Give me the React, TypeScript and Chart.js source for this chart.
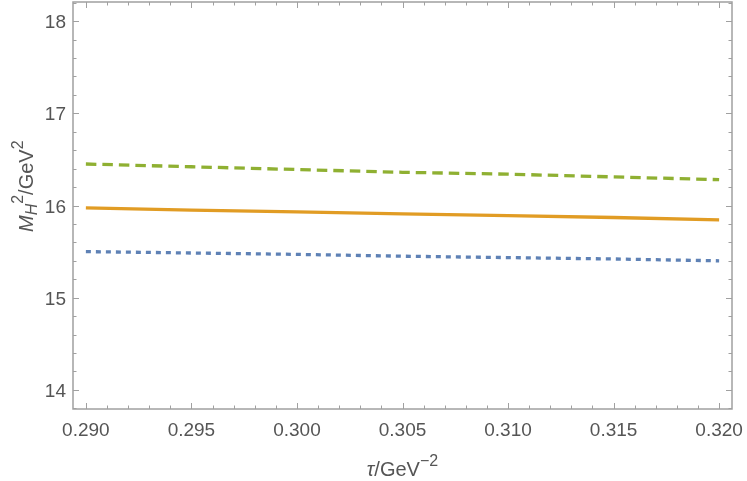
import React, { useEffect, useRef } from "react";
import { Chart, registerables } from "chart.js";

Chart.register(...registerables);

// ---- data ----
const tau = [0.29, 0.295, 0.3, 0.305, 0.31, 0.315, 0.32];
const upperM2 = [16.45, 16.42, 16.39, 16.36, 16.34, 16.31, 16.28];
const centralM2 = [15.975, 15.95, 15.93, 15.91, 15.89, 15.87, 15.845];
const lowerM2 = [15.5, 15.485, 15.47, 15.45, 15.435, 15.42, 15.4];

const xTickValues = [0.29, 0.295, 0.3, 0.305, 0.31, 0.315, 0.32];
const xTickLabels = ["0.290", "0.295", "0.300", "0.305", "0.310", "0.315", "0.320"];
const yTickValues = [14, 15, 16, 17, 18];
const yTickLabels = ["14", "15", "16", "17", "18"];
const xMinorStep = 0.001;
const yMinorStep = 0.2;

const X_MIN = 0.28939;
const X_MAX = 0.32061;
const Y_MIN = 13.793;
const Y_MAX = 18.207;

const FONT = "'Liberation Sans', Arial, sans-serif";
const FRAME = "#a0a0a0";
const TEXT = "#555555";

type Seg = { t: string; size: number; italic?: boolean; dy?: number };

function drawRich(ctx: CanvasRenderingContext2D, segs: Seg[], x: number, y: number) {
  let cx = x;
  for (const s of segs) {
    ctx.font = `${s.italic ? "italic " : ""}${s.size}px ${FONT}`;
    ctx.fillText(s.t, cx, y + (s.dy || 0));
    cx += ctx.measureText(s.t).width;
  }
  return cx - x;
}
function richWidth(ctx: CanvasRenderingContext2D, segs: Seg[]) {
  let w = 0;
  for (const s of segs) {
    ctx.font = `${s.italic ? "italic " : ""}${s.size}px ${FONT}`;
    w += ctx.measureText(s.t).width;
  }
  return w;
}

const framePlugin = {
  id: "mmaFrame",
  afterDraw(chart: any) {
    const ctx: CanvasRenderingContext2D = chart.ctx;
    const { left, right, top, bottom } = chart.chartArea;
    const xs = chart.scales.x;
    const ys = chart.scales.y;
    ctx.save();
    // frame
    ctx.strokeStyle = FRAME;
    ctx.lineWidth = 1.5;
    ctx.strokeRect(left, top, right - left, bottom - top);

    // ticks
    ctx.lineWidth = 1;
    const majorLen = 6;
    const minorLen = 3.5;
    ctx.beginPath();
    const nX = Math.round((X_MAX - X_MIN) / xMinorStep) + 2;
    const xStart = Math.ceil(X_MIN / xMinorStep) * xMinorStep;
    for (let i = 0; i < nX; i++) {
      const v = xStart + i * xMinorStep;
      if (v > X_MAX) break;
      const isMajor = xTickValues.some((m) => Math.abs(m - v) < 1e-9);
      const len = isMajor ? majorLen : minorLen;
      const px = Math.round(xs.getPixelForValue(v)) + 0.5;
      ctx.moveTo(px, bottom);
      ctx.lineTo(px, bottom - len);
      ctx.moveTo(px, top);
      ctx.lineTo(px, top + len);
    }
    const nY = Math.round((Y_MAX - Y_MIN) / yMinorStep) + 2;
    const yStart = Math.ceil(Y_MIN / yMinorStep) * yMinorStep;
    for (let i = 0; i < nY; i++) {
      const v = yStart + i * yMinorStep;
      if (v > Y_MAX) break;
      const isMajor = yTickValues.some((m) => Math.abs(m - v) < 1e-9);
      const len = isMajor ? majorLen : minorLen;
      const py = Math.round(ys.getPixelForValue(v)) + 0.5;
      ctx.moveTo(left, py);
      ctx.lineTo(left + len, py);
      ctx.moveTo(right, py);
      ctx.lineTo(right - len, py);
    }
    ctx.stroke();

    // tick labels
    ctx.fillStyle = TEXT;
    ctx.font = `19px ${FONT}`;
    ctx.textBaseline = "alphabetic";
    ctx.textAlign = "center";
    xTickValues.forEach((v, i) => {
      ctx.fillText(xTickLabels[i], xs.getPixelForValue(v), 436);
    });
    ctx.textAlign = "right";
    yTickValues.forEach((v, i) => {
      ctx.fillText(yTickLabels[i], 66, ys.getPixelForValue(v) + 7);
    });

    // x title
    ctx.textAlign = "left";
    const xt: Seg[] = [
      { t: "τ", size: 20, italic: true },
      { t: "/GeV", size: 20 },
      { t: "−2", size: 16, dy: -10 },
    ];
    const wx = richWidth(ctx, xt);
    drawRich(ctx, xt, (left + right) / 2 - wx / 2, 476);

    // y title (rotated)
    const yt: Seg[] = [
      { t: "M", size: 20, italic: true },
      { t: "H", size: 16, italic: true, dy: 4 },
      { t: "2", size: 16, dy: -10 },
      { t: "/GeV", size: 20 },
      { t: "2", size: 16, dy: -10 },
    ];
    ctx.save();
    ctx.translate(33, 232);
    ctx.rotate(-Math.PI / 2);
    drawRich(ctx, yt, 0, 0);
    ctx.restore();

    ctx.restore();
  },
};

export default function App() {
  const ref = useRef<HTMLCanvasElement | null>(null);
  useEffect(() => {
    document.body.style.margin = "0";
    const canvas = ref.current!;
    const mk = (ys: number[]) => tau.map((x, i) => ({ x, y: ys[i] }));
    const chart = new Chart(canvas, {
      type: "line",
      data: {
        datasets: [
          {
            label: "upper",
            data: mk(upperM2),
            borderColor: "#8fb032",
            borderWidth: 3.3,
            borderDash: [10.5, 6],
            pointRadius: 0,
            fill: false,
            tension: 0,
          },
          {
            label: "central",
            data: mk(centralM2),
            borderColor: "#e19c24",
            borderWidth: 3.3,
            pointRadius: 0,
            fill: false,
            tension: 0,
          },
          {
            label: "lower",
            data: mk(lowerM2),
            borderColor: "#5e81b5",
            borderWidth: 3.3,
            borderDash: [5, 5],
            pointRadius: 0,
            fill: false,
            tension: 0,
          },
        ],
      },
      options: {
        animation: false,
        responsive: false,
        maintainAspectRatio: false,
        devicePixelRatio: 1,
        layout: { padding: { left: 73, top: 2, right: 15, bottom: 72 } },
        plugins: { legend: { display: false }, tooltip: { enabled: false } },
        scales: {
          x: { type: "linear", min: X_MIN, max: X_MAX, display: false },
          y: { type: "linear", min: Y_MIN, max: Y_MAX, display: false },
        },
      },
      plugins: [framePlugin],
    });
    return () => chart.destroy();
  }, []);
  return (
    <div style={{ width: 747, height: 481, background: "#fff" }}>
      <canvas ref={ref} width={747} height={481} style={{ display: "block" }} />
    </div>
  );
}
